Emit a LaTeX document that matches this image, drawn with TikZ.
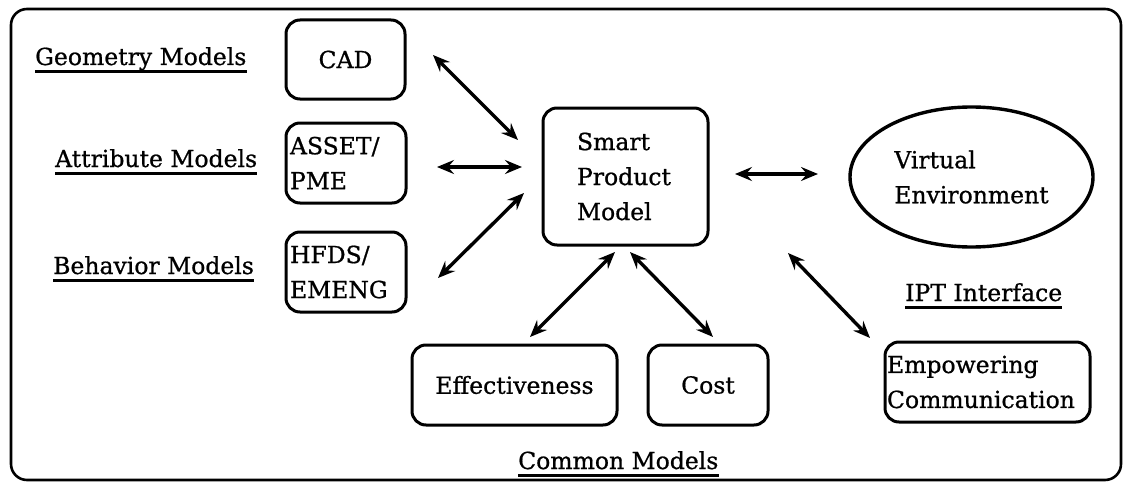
\documentclass[tikz,border=0pt]{standalone}
\usepackage{fontspec}
\setmainfont{DejaVu Serif}[FakeBold=0.8]
\usetikzlibrary{arrows.meta,shapes.geometric}
\begin{document}
\begin{tikzpicture}[x=1pt,y=-1pt,
  font=\fontsize{23.5}{35}\selectfont,
  frame/.style={draw, line width=2.6pt, rounded corners=16pt},
  box/.style={draw, line width=3pt, rounded corners=14pt, inner sep=0pt},
  oval/.style={draw, ellipse, line width=3.4pt, inner sep=0pt, align=left},
  lbl/.style={anchor=base west, inner sep=0pt},
  uline/.style={line width=2.4pt},
  tip/.style={Stealth[length=17pt,width=14pt,inset=6pt]},
  link/.style={line width=3.4pt, {Stealth[length=17pt,width=14pt,inset=6pt]}-{Stealth[length=17pt,width=14pt,inset=6pt]}}
]
\useasboundingbox (0,0) rectangle (1124,487);

% outer frame
\draw[frame] (11,9) rectangle (1121,480);

% model boxes
\node[box, minimum width=119pt, minimum height=79pt, text width=105pt, align=center] (cad) at (345.5,59.5) {CAD};
\node[box, minimum width=120pt, minimum height=80pt, text width=112pt, align=left] (asset) at (346,163) {ASSET/\\PME};
\node[box, minimum width=120pt, minimum height=80pt, text width=112pt, align=left] (hfds) at (346,272) {HFDS/\\EMENG};
\node[box, minimum width=165pt, minimum height=137pt, text width=97pt, align=left] (spm) at (625.5,176.5) {Smart\\Product\\Model};
\node[oval, minimum width=243pt, minimum height=140pt] (ve) at (971.5,177) {Virtual\\Environment};
\node[box, minimum width=205pt, minimum height=80pt, text width=190pt, align=center] (eff) at (514.5,385) {Effectiveness};
\node[box, minimum width=120pt, minimum height=80pt, text width=100pt, align=center] (cost) at (708,385) {Cost};
\node[box, minimum width=205pt, minimum height=80pt, text width=201pt, align=left] (emp) at (987.5,382) {Empowering\\Communication};

% group labels
\node[lbl] (geo) at (35,65) {Geometry Models};
\node[lbl] (attr) at (55,167) {Attribute Models};
\node[lbl] (beh) at (53,274) {Behavior Models};
\node[lbl] (com) at (518,469) {Common Models};
\node[lbl] (ipt) at (905,301) {IPT Interface};
\foreach \n in {geo,attr,beh,com,ipt}
  \draw[uline] ([yshift=-6.5pt]\n.base west) -- ([yshift=-6.5pt]\n.base east);

% connector end points
\coordinate (cadA) at (433,55);   \coordinate (cadB) at (518,140);
\coordinate (assA) at (437,167);  \coordinate (assB) at (522,167);
\coordinate (hfdA) at (438,278);  \coordinate (hfdB) at (524,193);
\coordinate (veA)  at (735,174);  \coordinate (veB)  at (818,174);
\coordinate (effA) at (615,252);  \coordinate (effB) at (530,337);
\coordinate (cstA) at (630,252);  \coordinate (cstB) at (713,337);
\coordinate (empA) at (788,253);  \coordinate (empB) at (870,338);

% two-way links
\draw[link] (cadA) -- (cadB);
\draw[link] (assA) -- (assB);
\draw[link] (hfdA) -- (hfdB);
\draw[link] (veA) -- (veB);
\draw[link] (effA) -- (effB);
\draw[link] (cstA) -- (cstB);
\draw[link] (empA) -- (empB);
\end{tikzpicture}
\end{document}
